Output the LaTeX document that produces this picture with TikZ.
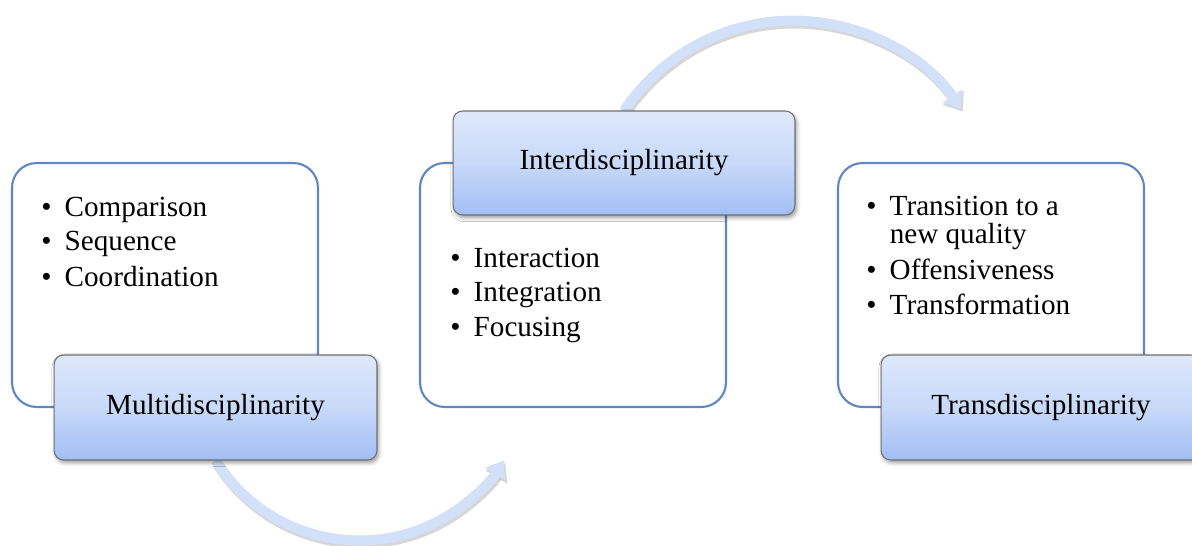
\documentclass[tikz,border=0pt]{standalone}
\usepackage{fontspec}
\setmainfont{Liberation Serif}
\usetikzlibrary{arrows.meta,shadows.blur}
\definecolor{wbord}{HTML}{5F87C2}
\definecolor{btop}{HTML}{DEE8FB}
\definecolor{bmid}{HTML}{C8D9F9}
\definecolor{bbot}{HTML}{A2BFF5}
\definecolor{bbord}{HTML}{6F6F6F}
\definecolor{flowc}{HTML}{D3E0F9}
\pgfdeclarelayer{bg}
\pgfsetlayers{bg,main}
\tikzset{
  wbox/.style={draw=wbord, line width=1.2pt, fill=white, rounded corners=14pt,
    minimum width=6.12cm, minimum height=4.88cm, inner sep=0pt},
  bbox/.style={draw=bbord, line width=0.6pt, rounded corners=5.5pt,
    top color=btop, bottom color=bbot, middle color=bmid,
    blur shadow={shadow xshift=1pt, shadow yshift=-1.6pt, shadow blur radius=2.2pt, shadow opacity=40},
    font=\fontsize{16.6}{20}\selectfont},
  lst/.style={anchor=base west, inner sep=0pt, font=\fontsize{16.6}{16}\selectfont},
  flow/.style={line width=5.7pt, color=flowc, -{Triangle[width=13pt,length=9pt]}},
  flowsh/.style={line width=6.2pt, color=black!45, opacity=0.35, -{Triangle[width=14pt,length=9.5pt]}}
}
\newcommand{\bl}{\textbullet}
\begin{document}
\begin{tikzpicture}[x=0.02cm,y=0.02cm]
\useasboundingbox (0,0) rectangle (1192,-545);
% left group
\node[wbox] (lw) at (165,-285) {};
\node[lst] (ll) at (41,-216) {\begin{tabular}[t]{@{}l@{\hspace{7.5pt}}l@{}}
\bl & Comparison\\[3.8pt]
\bl & Sequence\\[3.8pt]
\bl & Coordination
\end{tabular}};
\node[bbox, minimum width=6.46cm, minimum height=2.1cm] (lb) at (215.5,-407.5) {Multidisciplinarity};
% middle group
\node[wbox] (mw) at (573,-285) {};
\node[lst] (ml) at (450,-267) {\begin{tabular}[t]{@{}l@{\hspace{7.5pt}}l@{}}
\bl & Interaction\\[3.8pt]
\bl & Integration\\[3.8pt]
\bl & Focusing
\end{tabular}};
\node[bbox, minimum width=6.84cm, minimum height=2.08cm] (mb) at (624,-163) {Interdisciplinarity};
% right group
\node[wbox] (rw) at (991,-285) {};
\node[lst] (rl) at (866,-215) {\begin{tabular}[t]{@{}l@{\hspace{7.5pt}}l@{}}
\bl & Transition to a\\
    & new quality\\[3.8pt]
\bl & Offensiveness\\[3.8pt]
\bl & Transformation
\end{tabular}};
\node[bbox, minimum width=6.4cm, minimum height=2.1cm] (rb) at (1041,-407.5) {Transdisciplinarity};
% arrows
\begin{pgfonlayer}{bg}
\draw[flowsh] ([shift={(1.5,-2.5)}]lb.south) arc[start angle=212, end angle=328, radius=3.4cm];
\draw[flow] (lb.south) arc[start angle=212, end angle=328, radius=3.4cm];
\draw[flowsh] ([shift={(1.5,-2.5)}]mb.north) arc[start angle=146, end angle=34.5, radius=4.08cm];
\draw[flow] (mb.north) arc[start angle=146, end angle=34.5, radius=4.08cm];
\end{pgfonlayer}
\end{tikzpicture}
\end{document}
